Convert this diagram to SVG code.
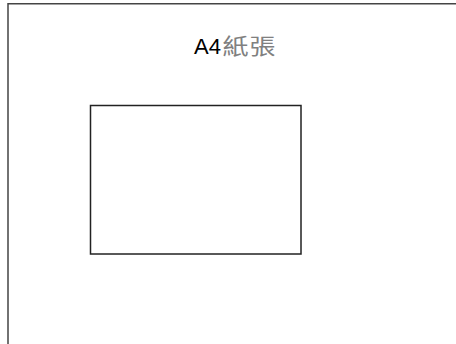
<svg xmlns="http://www.w3.org/2000/svg" width="456" height="344" viewBox="0 0 456 344">
  <style>
    .page { fill: #ffffff; stroke: #444444; stroke-width: 1.5; }
    .box { fill: #ffffff; stroke: #222222; stroke-width: 1.5; }
    .title { font-family: "Liberation Sans", Arial, sans-serif; font-size: 22px; fill: #000000; }
    .cjk { font-family: "Noto Sans CJK TC", "Noto Sans CJK SC", sans-serif; font-size: 22px; fill: #808080; letter-spacing: 1px; }
  </style>
  <rect x="0" y="0" width="456" height="344" fill="#ffffff"/>
  <g id="page">
    <rect class="page" x="8" y="3.75" width="460" height="350"/>
    <text class="title" x="194" y="53.5">A4</text>
    <text class="cjk" transform="translate(222.5,54) scale(1.18,1)">紙張</text>
  </g>
  <g id="box">
    <rect class="box" x="90.5" y="105.5" width="210.5" height="148.5"/>
  </g>
  <g id="connectors"></g>
</svg>
